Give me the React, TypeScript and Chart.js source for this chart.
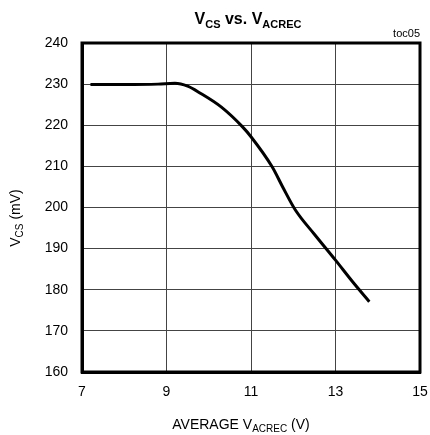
import React, { useEffect, useRef } from "react";
import { Chart, registerables } from "chart.js";

Chart.register(...registerables);

const xValues = [7.2, 8.0, 8.8, 9.2, 9.5, 9.8, 10.3, 10.8, 11.0, 11.5, 11.75, 12.05, 12.5, 13.0, 13.4, 13.8];
const vcsValues = [229.9, 229.9, 230.0, 230.2, 229.5, 227.8, 224.4, 219.6, 217.2, 209.9, 205.0, 199.4, 193.5, 187.2, 182.0, 177.1];
const xTicks = [7, 9, 11, 13, 15];
const yTicks = [160, 170, 180, 190, 200, 210, 220, 230, 240];

const FONT = "'Liberation Sans', Arial, sans-serif";

type Seg = { t: string; sub?: boolean };

function drawRich(ctx: CanvasRenderingContext2D, segs: Seg[], x: number, y: number, size: number, bold: boolean, align: "center" | "right" | "left") {
  const w = bold ? "bold " : "";
  const subSize = Math.round(size * 0.68);
  const widths = segs.map((s) => {
    ctx.font = `${w}${s.sub ? subSize : size}px ${FONT}`;
    return ctx.measureText(s.t).width;
  });
  const total = widths.reduce((a, b) => a + b, 0);
  let cx = align === "center" ? x - total / 2 : align === "right" ? x - total : x;
  ctx.textAlign = "left";
  ctx.textBaseline = "alphabetic";
  segs.forEach((s, i) => {
    ctx.font = `${w}${s.sub ? subSize : size}px ${FONT}`;
    ctx.fillText(s.t, cx, y + (s.sub ? size * 0.22 : 0));
    cx += widths[i];
  });
}

const textPlugin = {
  id: "textPlugin",
  afterDraw(chart: any) {
    const ctx = chart.ctx as CanvasRenderingContext2D;
    ctx.save();
    ctx.fillStyle = "#000";
    drawRich(ctx, [{ t: "V" }, { t: "CS", sub: true }, { t: " vs. V" }, { t: "ACREC", sub: true }], 248, 24, 16, true, "center");
    ctx.font = `11px ${FONT}`;
    ctx.textAlign = "right";
    ctx.textBaseline = "alphabetic";
    ctx.fillText("toc05", 420, 37);
    drawRich(ctx, [{ t: "AVERAGE V" }, { t: "ACREC", sub: true }, { t: " (V)" }], 241, 429, 14, false, "center");
    ctx.translate(20, 218);
    ctx.rotate(-Math.PI / 2);
    drawRich(ctx, [{ t: "V" }, { t: "CS", sub: true }, { t: " (mV)" }], 0, 0, 14, false, "center");
    ctx.restore();
  },
};

export default function App() {
  const ref = useRef<HTMLCanvasElement>(null);
  useEffect(() => {
    if (!ref.current) return;
    const chart = new Chart(ref.current, {
      type: "scatter",
      data: {
        datasets: [
          {
            data: xValues.map((x, i) => ({ x, y: vcsValues[i] })),
            showLine: true,
            borderColor: "#000",
            borderWidth: 3,
            pointRadius: 0,
            cubicInterpolationMode: "monotone",
            fill: false,
          },
        ],
      },
      options: {
        animation: false,
        responsive: false,
        layout: { padding: { left: 0, right: 10, top: 43, bottom: 0 } },
        plugins: { legend: { display: false }, tooltip: { enabled: false }, title: { display: false } },
        scales: {
          x: {
            type: "linear",
            min: 7,
            max: 15,
            afterBuildTicks: (s: any) => { s.ticks = xTicks.map((v) => ({ value: v })); },
            afterFit: (s: any) => { s.height = 63; s.paddingLeft = 0; s.paddingRight = 0; },
            grid: { color: "#444", lineWidth: 1, drawTicks: false },
            border: { color: "#000", width: 3 },
            ticks: { color: "#000", font: { family: FONT, size: 14 }, padding: 12, maxRotation: 0 },
          },
          y: {
            type: "linear",
            min: 160,
            max: 240,
            afterBuildTicks: (s: any) => { s.ticks = yTicks.map((v) => ({ value: v })); },
            afterFit: (s: any) => { s.width = 82; s.paddingTop = 0; s.paddingBottom = 0; },
            grid: { color: "#444", lineWidth: 1, drawTicks: false },
            border: { color: "#000", width: 3 },
            ticks: { color: "#000", font: { family: FONT, size: 14 }, padding: 14 },
          },
        },
      },
      plugins: [
        textPlugin,
        {
          id: "frame",
          afterDatasetsDraw(c: any) {
            const { left, right, top, bottom } = c.chartArea;
            const g = c.ctx;
            g.save();
            g.strokeStyle = "#000";
            g.lineWidth = 3;
            g.strokeRect(left, top, right - left, bottom - top);
            g.restore();
          },
        },
      ],
    } as any);
    return () => chart.destroy();
  }, []);
  return (
    <div style={{ position: "absolute", left: 0, top: 0, width: 430, height: 435, background: "#fff" }}>
      <canvas ref={ref} width={430} height={435} style={{ width: 430, height: 435 }} />
    </div>
  );
}
